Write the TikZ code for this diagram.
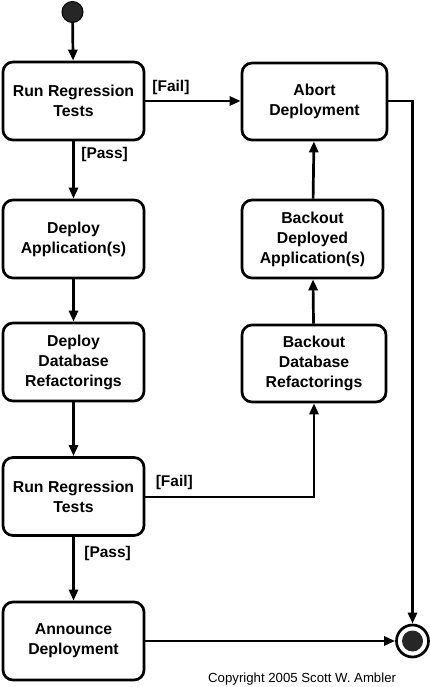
\documentclass[tikz,border=0pt]{standalone}
\usepackage{fontspec}
\setmainfont{Liberation Sans}
\usetikzlibrary{arrows.meta}
\begin{document}
\begin{tikzpicture}[x=1pt,y=-1pt,
  act/.style={draw, line width=2.7pt, rounded corners=10pt, minimum width=141pt, minimum height=78pt, align=center, font=\fontsize{15.8}{20}\selectfont\bfseries, inner sep=0pt},
  flow/.style={line width=2.7pt, -{Triangle[length=11pt,width=9pt]}},
  lbl/.style={font=\fontsize{15.5}{17}\selectfont\bfseries, inner sep=0pt}]
\useasboundingbox (0,0) rectangle (430,687);
\node[circle, fill=black!85, draw=black, line width=1pt, minimum size=21pt, inner sep=0pt] (start) at (72.5,12) {};
\node[act] (rrt1) at (73.5,101) {Run Regression\\Tests};
\node[act] (dep) at (73.5,239) {Deploy\\Application(s)};
\node[act] (ddb) at (73.5,362) {Deploy\\Database\\Refactorings};
\node[act] (rrt2) at (73.5,496.5) {Run Regression\\Tests};
\node[act] (ann) at (73.5,641) {Announce\\Deployment};
\node[act, minimum width=145pt, minimum height=77pt] (abort) at (314.5,101.5) {Abort\\Deployment};
\node[act] (bda) at (312.5,239) {Backout\\Deployed\\Application(s)};
\node[act, minimum width=144pt, minimum height=77pt] (bdb) at (314,363.5) {Backout\\Database\\Refactorings};
\node[circle, draw=black, line width=2.7pt, minimum size=32pt, inner sep=0pt] (final) at (412.5,641) {};
\node[circle, fill=black!85, minimum size=21pt, inner sep=0pt] (finalin) at (412.5,641) {};
\coordinate (c1) at (412.5,101);
\draw[flow] (start) -- (rrt1);
\draw[flow] (rrt1) -- node[lbl, anchor=north west, xshift=6.5pt, pos=0.08] {[Pass]} (dep);
\draw[flow] (rrt1.east |- 0,101) -- node[lbl, anchor=south west, yshift=5pt, pos=0.06] {[Fail]} (abort.west |- 0,101);
\draw[flow] (dep) -- (ddb);
\draw[flow] (ddb) -- (rrt2);
\draw[flow] (rrt2) -- node[lbl, anchor=north west, xshift=9.5pt, pos=0.12] {[Pass]} (ann);
\draw[flow] (rrt2.east |- 0,497) -| node[lbl, anchor=south west, yshift=6pt, pos=0.027] {[Fail]} (bdb.south);
\draw[flow] (bdb) -- (bda);
\draw[flow] (bda) -- (abort);
\draw[flow] (abort.east |- 0,101) -- (c1) -- (final);
\draw[flow] (ann) -- (final);
\node[font=\fontsize{13.2}{15}\selectfont, anchor=base west, inner sep=0pt] (copy) at (208,682) {Copyright 2005 Scott W. Ambler};
\end{tikzpicture}
\end{document}
